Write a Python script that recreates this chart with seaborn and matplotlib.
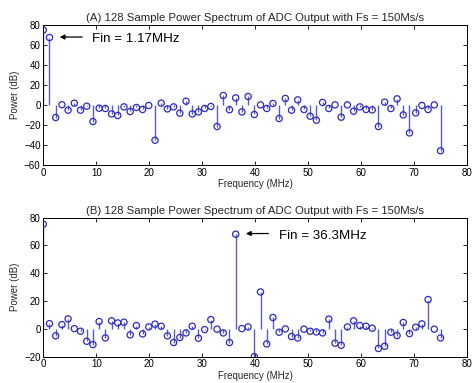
import numpy as np
import pandas as pd
import matplotlib
matplotlib.use("Agg")
import matplotlib.pyplot as plt
import seaborn as sns

# FFT bin spacing: 150 MS/s / 128 samples
fs_mhz = 150.0
n_fft = 128
freq_mhz = np.arange(n_fft // 2 + 1) * fs_mhz / n_fft

# (A) input tone at 1.17 MHz
power_a = [75, 67.5, -12.3, 0.5, -5, 2, -5, -1, -16.3, -3, -3.3, -8.7, -10.3,
           -1.7, -6.3, -2.3, -4.3, -0.3, -35, 2, -3.7, -1.7, -8, 4, -8.7, -6.7,
           -3.3, -1.3, -21.3, 9.7, -4.5, 7.3, -6.7, 8.7, -9.3, 0.3, -3.3, 1.7,
           -13.3, 6.7, -5, 5.3, -4.3, -11, -15, 2.7, -3.3, 0.3, -12, 0.3, -6,
           -1.7, -4.3, -4.7, -21.3, 3, -3.3, 6.3, -9.7, -27.7, -7.7, -0.3, -4.3,
           0.3, -45.5]

# (B) input tone at 36.3 MHz
power_b = [75.3, 3.8, -5, 3.1, 7.2, 0.2, -1.7, -8.9, -11.3, 5.3, -6.5, 5.8, 4.3,
           4.8, -4.3, 2.4, -3.6, 1.4, 3.4, 1.9, -5, -9.8, -6.2, -2.9, 1.9, -6.7,
           -0.5, 6.7, -0.2, -2.9, -9.8, 68.1, 0.2, 1.4, -20, 26.6, -10.8, 8.2,
           -2.4, 0, -5.5, -6.5, -0.2, -1.7, -2.2, -2.9, 7, -10.3, -11.8, 1.4,
           5.8, 2.4, 1.9, 0.5, -14.1, -12.5, -2.4, -4.8, 4.6, -3.4, 1.2, 3.6,
           21.1, -0.2, -6.5]

titles = ["(A) 128 Sample Power Spectrum of ADC Output with Fs = 150Ms/s",
          "(B) 128 Sample Power Spectrum of ADC Output with Fs = 150Ms/s"]
fin_labels = ["Fin = 1.17MHz", "Fin = 36.3MHz"]
fin_bins = [1, 31]
y_limits = [(-60, 80), (-20, 80)]

sns.set_theme(style="ticks")
plt.rcParams["font.family"] = ["Liberation Sans", "DejaVu Sans"]

stem_color = "#5a5ad0"
marker_color = "#2a2ac8"

fig = plt.figure(figsize=(4.72, 3.83), dpi=100)
ax_pos = [[0.0917, 0.5684, 0.8977, 0.3663],
          [0.0917, 0.0687, 0.8977, 0.3629]]

for i, power in enumerate([power_a, power_b]):
    ax = fig.add_axes(ax_pos[i])
    df = pd.DataFrame({"freq": freq_mhz, "power": power})
    ax.vlines(df["freq"], 0, df["power"], color=stem_color, lw=1.0, zorder=2)
    sns.scatterplot(data=df, x="freq", y="power", ax=ax, marker="o",
                    s=20, facecolor="none", edgecolor=marker_color,
                    linewidth=0.9, zorder=3, legend=False)
    ax.set_xlim(0, 80)
    ax.set_ylim(*y_limits[i])
    ax.set_xticks(np.arange(0, 81, 10))
    ax.set_yticks(np.arange(y_limits[i][0], y_limits[i][1] + 1, 20))
    ax.tick_params(direction="in", length=3, width=0.6, labelsize=7,
                   top=True, right=True, pad=2, colors="black")
    for sp in ax.spines.values():
        sp.set_linewidth(0.7)
        sp.set_color("black")
    ax.set_xlabel("Frequency (MHz)", fontsize=7, labelpad=1)
    ax.set_ylabel("Power (dB)", fontsize=7, labelpad=3)
    ax.set_title(titles[i], fontsize=8.2, pad=3)

    k = fin_bins[i]
    fx, fy = freq_mhz[k], power[k]
    ax.annotate("", xy=(fx + 1.4, fy + 0.5), xytext=(fx + 6.7, fy + 0.5),
                arrowprops=dict(arrowstyle="-|>", color="black", lw=0.9,
                                mutation_scale=7))
    ax.text(fx + 8.1, fy - 1.5, fin_labels[i], fontsize=9.6,
            va="center", ha="left", color="black")

fig.savefig("out.png", dpi=100)
